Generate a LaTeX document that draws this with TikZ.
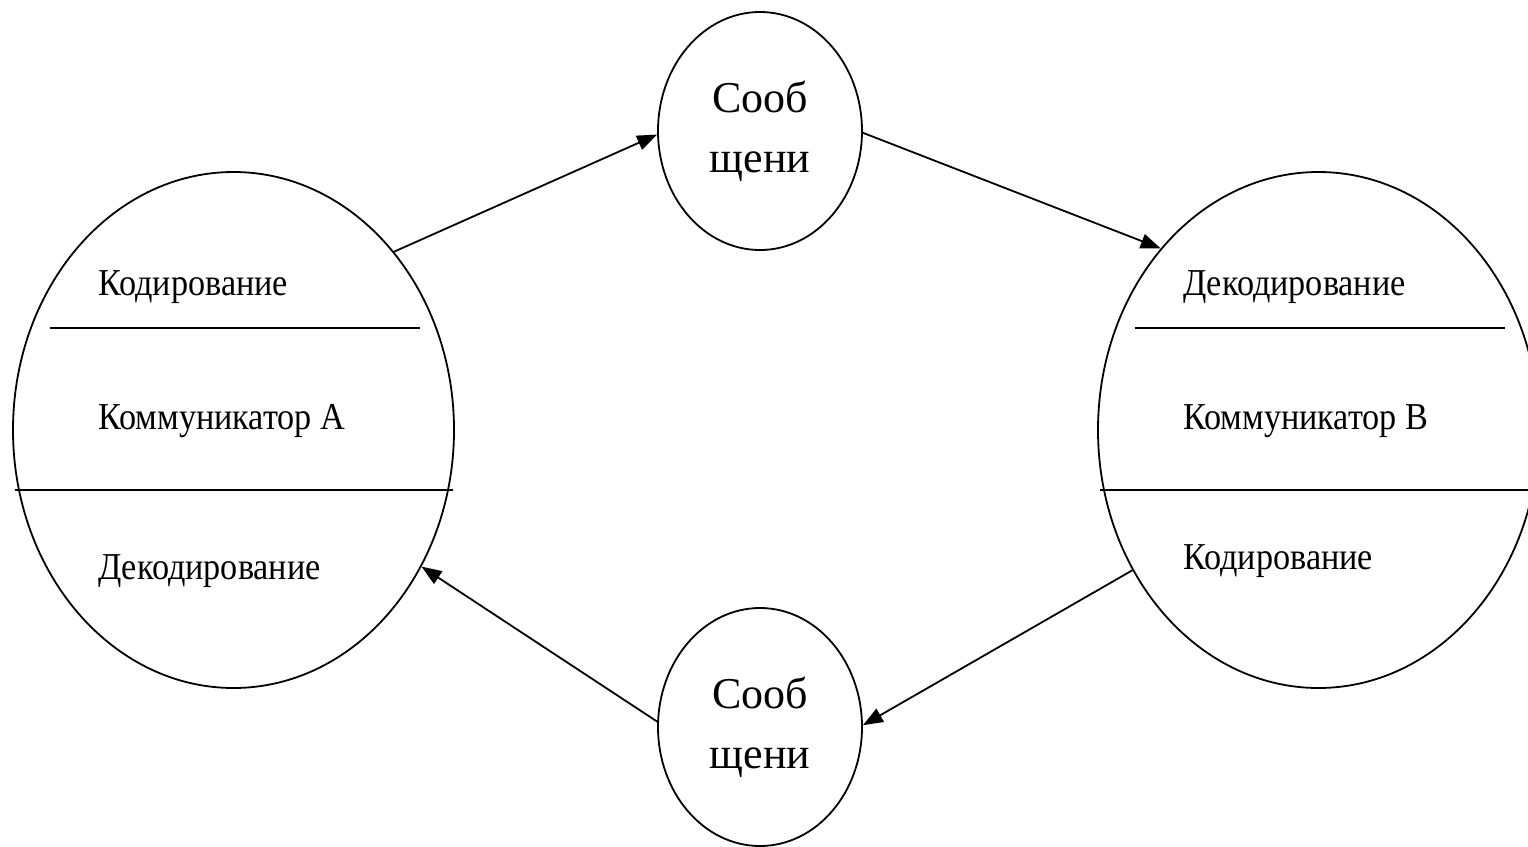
\documentclass[tikz,border=0pt]{standalone}
\usepackage{fontspec}
\setmainfont{Liberation Serif}
\newfontfamily\partfont[FakeStretch=0.9]{Liberation Serif}
\usetikzlibrary{shapes.geometric, arrows.meta}
\tikzset{
	communicator/.style={
		draw,
		ellipse,
		line width=1.8pt,
		inner sep=0pt,
		minimum width=441pt,
		minimum height=516pt
	},
	message/.style={
		draw,
		ellipse,
		line width=1.8pt,
		inner sep=0pt,
		minimum width=204pt,
		minimum height=238pt,
		align=center,
		font=\fontsize{44}{60}\selectfont
	},
	part/.style={
		anchor=base west,
		inner sep=0pt,
		font=\partfont\fontsize{38}{40}\selectfont
	},
	divider/.style={line width=1.8pt}
}

\begin{document}
\begin{tikzpicture}[x=1pt, y=-1pt]
		\fill[white] (0,0) rectangle (1528,846);
		\useasboundingbox (0,0) rectangle (1528,846);
		
		% communicators
		\node[communicator] (commA) at (233.5,430) {};
		\node[communicator] (commB) at (1318.5,430) {};
		
		% messages
		\node[message] (msgTop) at (760,131) {Сооб\\щени};
		\node[message] (msgBottom) at (760,727) {Сооб\\щени};
		
		% dividers inside the communicators
		\foreach \who in {commA, commB} {
			\draw[divider] ([shift={(-184,-102)}]\who.center) -- ++(370,0);
			\draw[divider] ([shift={(-219,60)}]\who.center) -- ++(438,0);
		}
		
		% parts of communicator A
		\node[part] (codeA) at (98,295) {Кодирование};
		\node[part] (nameA) at (98,429) {Коммуникатор А};
		\node[part] (decodeA) at (98,579) {Декодирование};
		
		% parts of communicator B
		\node[part] (decodeB) at (1183,295) {Декодирование};
		\node[part] (nameB) at (1183,429) {Коммуникатор В};
		\node[part] (codeB) at (1183,569) {Кодирование};
		
		% message flow
		\begin{scope}[line width=1.8pt, ->, >={Triangle[length=20pt, width=15pt]}]
		\draw (commA.48.6) -- (msgTop.182);
		\draw (msgTop.-1) -- (commB.131.2);
		\draw (commB.217.5) -- (msgBottom.1.5);
		\draw (msgBottom.177) -- (commA.-36.3);
		\end{scope}
		
\end{tikzpicture}
\end{document}
